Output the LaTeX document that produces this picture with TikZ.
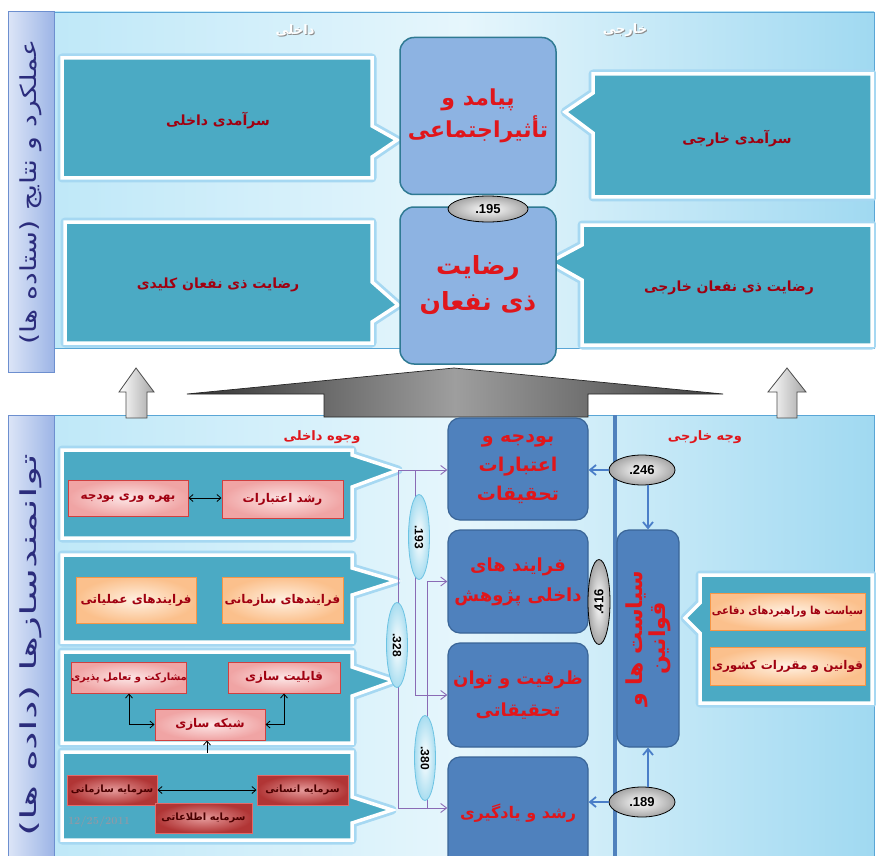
\documentclass[tikz,border=0pt]{standalone}
\usepackage{fontspec}
\usepackage{graphicx}
\usetikzlibrary{shapes.geometric,arrows.meta,calc}
\newfontfamily\arabicfont[Script=Arabic]{DejaVu Sans}
\newfontfamily\numfont{Liberation Sans}
\TeXXeTstate=1
\newcommand{\fa}[1]{{\arabicfont\beginR #1\endR}}
\newcommand{\fsz}[2]{\fontsize{#1}{#2}\selectfont}
\definecolor{cTeal}{HTML}{4BAAC4}
\definecolor{cTealD}{HTML}{2D6F82}
\definecolor{cGlow}{HTML}{A6D8F2}
\definecolor{cPanL}{HTML}{BFE8F8}
\definecolor{cPanM}{HTML}{E6F6FC}
\definecolor{cPanR}{HTML}{A0D9F1}
\definecolor{cPanB}{HTML}{5AA6D6}
\definecolor{cBarL}{HTML}{DCE5F7}
\definecolor{cBarR}{HTML}{9DB5E6}
\definecolor{cBarB}{HTML}{6D8FCF}
\definecolor{cBarT}{HTML}{2B2C7C}
\definecolor{cTopF}{HTML}{8DB3E2}
\definecolor{cTopB}{HTML}{2F7A93}
\definecolor{cChain}{HTML}{4F81BD}
\definecolor{cChainB}{HTML}{3A6597}
\definecolor{cRed}{HTML}{E0161B}
\definecolor{cDRed}{HTML}{A00010}
\definecolor{cPinkI}{HTML}{FCE6E6}
\definecolor{cPinkO}{HTML}{F0A4A4}
\definecolor{cPinkB}{HTML}{D04040}
\definecolor{cOrI}{HTML}{FFF1E2}
\definecolor{cOrO}{HTML}{FBC08C}
\definecolor{cOrB}{HTML}{F79646}
\definecolor{cCapI}{HTML}{E59A9A}
\definecolor{cCapO}{HTML}{B13535}
\definecolor{cCapB}{HTML}{E26B6B}
\definecolor{cCapT}{HTML}{4A0000}
\definecolor{cPurp}{HTML}{8A6BB5}
\definecolor{cBlueA}{HTML}{4A7EC8}
\definecolor{cCyan}{HTML}{A8DDF0}
\definecolor{cCyanB}{HTML}{6CC3E3}
\definecolor{cGrayE}{HTML}{A6A6A6}
\definecolor{cDate}{HTML}{8C9AA8}
\begin{document}
\begin{tikzpicture}[x=1pt,y=-1pt,
  callout/.style={fill=cTeal, draw=white, line width=3.5pt, preaction={draw=cGlow, line width=9pt, line join=round}},
  cotext/.style={text=cDRed, font=\bfseries\fsz{14}{16}},
  topbox/.style={draw=cTopB, line width=1.5pt, fill=cTopF, rounded corners=14pt, inner sep=0pt, text=cRed, align=center},
  chainbox/.style={draw=cChainB, line width=1.2pt, fill=cChain, rounded corners=12pt, inner sep=0pt, text=cRed, align=center, font=\bfseries\fsz{19}{29}},
  gell/.style={ellipse, draw=black, line width=0.8pt, inner color=white, outer color=cGrayE, inner sep=0pt, font=\numfont\bfseries\fsz{13}{13}},
  vell/.style={ellipse, draw=cCyanB, line width=0.8pt, inner color=white, outer color=cCyan, inner sep=0pt, minimum width=85pt, minimum height=21pt, rotate=-90, font=\numfont\bfseries\fsz{12}{12}},
  pinkbox/.style={draw=cPinkB, line width=1pt, inner color=cPinkI, outer color=cPinkO, inner sep=0pt, text=cDRed, font=\bfseries\fsz{12}{12}},
  orbox/.style={draw=cOrB, line width=1pt, inner color=cOrI, outer color=cOrO, inner sep=0pt, text=cDRed, font=\bfseries\fsz{12}{12}},
  capbox/.style={draw=cCapB, line width=1pt, inner color=cCapI, outer color=cCapO, inner sep=0pt, text=cCapT, font=\bfseries\fsz{10}{10}},
  blk/.style={draw=black, line width=0.8pt, {Straight Barb[length=4pt,width=7pt]}-{Straight Barb[length=4pt,width=7pt]}},
  purp/.style={draw=cPurp, line width=0.9pt},
  purpA/.style={draw=cPurp, line width=0.9pt, -{Straight Barb[length=6pt,width=9pt]}},
  blueA/.style={draw=cBlueA, line width=1.8pt, -{Straight Barb[length=6pt,width=10pt]}},
  hdr/.style={text=white, font=\bfseries\fsz{13}{13}},
  hdrs/.style={text=black!45, font=\bfseries\fsz{13}{13}},
  sect/.style={text=cRed, font=\bfseries\fsz{13}{13}}
]
\useasboundingbox (0,0) rectangle (876,856);
\fill[white] (0,0) rectangle (876,856);

% ---------- panels ----------
\shadedraw[left color=cPanL, right color=cPanR, middle color=cPanM, draw=cPanB, line width=0.8pt] (53,12) rectangle (874,348);
\shadedraw[left color=cPanL, right color=cPanR, middle color=cPanM, draw=cPanB, line width=0.8pt] (53,415) rectangle (874,860);
\shadedraw[left color=cBarL, right color=cBarR, draw=cBarB, line width=1pt] (8,12) rectangle (54,372);
\shadedraw[left color=cBarL, right color=cBarR, draw=cBarB, line width=1pt] (8,415) rectangle (54,860);
\node[rotate=90, text=cBarT, font=\fsz{22}{22}] (lblTop) at (31,192) {\scalebox{1.3}[1]{\fa{عملکرد و نتایج (ستاده ها)}}};
\node[rotate=90, text=cBarT, font=\fsz{22}{22}] (lblBot) at (31,645) {\scalebox{1.9}[1]{\fa{توانمندسازها (داده ها)}}};

% ---------- big gray arrow and small arrows ----------
\shadedraw[left color=black!80, right color=black!75, middle color=black!38, draw=black!85, line width=0.7pt]
  (187,394) -- (454,368) -- (723,394) -- (588,394) -- (588,417) -- (324,417) -- (324,394) -- cycle;
\shadedraw[left color=white, right color=black!35, draw=black!70, line width=0.8pt]
  (126,418) -- (126,392) -- (119,392) -- (136,368) -- (154,392) -- (147,392) -- (147,418) -- cycle;
\shadedraw[left color=white, right color=black!35, draw=black!70, line width=0.8pt]
  (777,418) -- (777,392) -- (768,392) -- (787,368) -- (806,392) -- (797,392) -- (797,418) -- cycle;

% ---------- headers ----------
\node[hdrs] (hdrInS) at (296,31) {\fa{داخلی}};
\node[hdr] (hdrIn) at (295,30) {\fa{داخلی}};
\node[hdrs] (hdrOutS) at (626,31) {\fa{خارجی}};
\node[hdr] (hdrOut) at (625,30) {\fa{خارجی}};

% ---------- top callouts ----------
\path[callout] (62,58) -- (372,58) -- (372,126) -- (397,140) -- (372,157) -- (372,178) -- (62,178) -- cycle;
\path[callout] (593,74) -- (872,74) -- (872,197) -- (593,197) -- (593,133) -- (565,112) -- (593,93) -- cycle;
\path[callout] (65,222) -- (372,222) -- (372,282) -- (398,305) -- (372,322) -- (372,343) -- (65,343) -- cycle;
\path[callout] (582,225) -- (872,225) -- (872,345) -- (582,345) -- (582,280) -- (550,262) -- (582,245) -- cycle;
\node[cotext] (sarDakheli) at (218,121) {\fa{سرآمدی داخلی}};
\node[cotext] (sarKhareji) at (737,139) {\fa{سرآمدی خارجی}};
\node[cotext] (rezKelidi) at (218,285) {\fa{رضایت ذی نفعان کلیدی}};
\node[cotext] (rezKhareji) at (729,288) {\fa{رضایت ذی نفعان خارجی}};

% ---------- central top boxes ----------
\node[topbox, minimum width=156pt, minimum height=157pt, font=\bfseries\fsz{22}{32}] (payamad) at (478,116) {\fa{پیامد و}\\\fa{تأثیراجتماعی}};
\node[topbox, minimum width=156pt, minimum height=157pt, font=\bfseries\fsz{25}{36}] (rezayat) at (478,285.5) {\fa{رضایت}\\\fa{ذی نفعان}};
\node[gell, minimum width=80pt, minimum height=26pt] (e195) at (488,209) {.195};

% ---------- bottom section headers ----------
\node[sect] (vojuh) at (322,437) {\fa{وجوه داخلی}};
\node[sect] (vajh) at (705,437) {\fa{وجه خارجی}};

% ---------- bottom-left callouts ----------
\path[callout] (62,450) -- (352,450) -- (352,455) -- (398,470) -- (352,487) -- (352,538) -- (62,538) -- cycle;
\path[callout] (62,555) -- (352,555) -- (352,568) -- (396,581) -- (352,595) -- (352,642) -- (62,642) -- cycle;
\path[callout] (62,652) -- (352,652) -- (352,667) -- (394,681) -- (352,696) -- (352,743) -- (62,743) -- cycle;
\path[callout] (62,752) -- (352,752) -- (352,797) -- (392,810) -- (352,823) -- (352,840) -- (62,840) -- cycle;

\node[pinkbox, minimum width=121pt, minimum height=38pt] (roshdE) at (282.5,499) {\fa{رشد اعتبارات}};
\node[pinkbox, minimum width=120pt, minimum height=36pt] (bahre) at (128,498) {\fa{بهره وری بودجه}};
\draw[blk] (bahre.east) -- (roshdE.west |- bahre.east);

\node[orbox, minimum width=121pt, minimum height=46pt] (farSaz) at (282.5,600) {\fa{فرایندهای سازمانی}};
\node[orbox, minimum width=120pt, minimum height=46pt] (farAmal) at (136,600) {\fa{فرایندهای عملیاتی}};

\node[pinkbox, minimum width=112pt, minimum height=31pt] (ghab) at (284,677.5) {\fa{قابلیت سازی}};
\node[pinkbox, minimum width=112pt, minimum height=31pt, font=\bfseries\fsz{10}{10}] (mosh) at (129,677.5) {\fa{مشارکت و تعامل پذیری}};
\node[pinkbox, minimum width=110pt, minimum height=31pt] (shab) at (210,724.5) {\fa{شبکه سازی}};
\draw[blk] (mosh.south) |- (shab.west);
\draw[blk] (ghab.south) |- (shab.east);
\coordinate (shabIn) at (207,753);
\draw[draw=black, line width=0.8pt, -{Straight Barb[length=4pt,width=7pt]}] (shabIn) -- (shabIn |- shab.south);

\node[capbox, minimum width=91pt, minimum height=30pt] (ensani) at (302.5,790) {\fa{سرمایه انسانی}};
\node[capbox, minimum width=90pt, minimum height=30pt] (sazmani) at (112,790) {\fa{سرمایه سازمانی}};
\node[capbox, minimum width=97pt, minimum height=30pt] (etelaat) at (203.5,818) {\fa{سرمایه اطلاعاتی}};
\draw[blk] (sazmani.east) -- (ensani.west);
\node[text=cDate, font=\bfseries\fsz{11}{11}] (date) at (99,822) {12/25/2011};

% ---------- central chain ----------
\node[chainbox, minimum width=140pt, minimum height=102pt] (boxA) at (518,469) {\fa{بودجه و}\\\fa{اعتبارات}\\\fa{تحقیقات}};
\node[chainbox, minimum width=140pt, minimum height=103pt, font=\bfseries\fsz{18}{30}] (boxB) at (518,581.5) {\fa{فرایند های}\\\fa{داخلی پژوهش}};
\node[chainbox, minimum width=140pt, minimum height=104pt, font=\bfseries\fsz{18}{32}] (boxC) at (518,695) {\fa{ظرفیت و توان}\\\fa{تحقیقاتی}};
\node[chainbox, minimum width=140pt, minimum height=112pt, font=\bfseries\fsz{16}{20}] (boxD) at (518,813) {\fa{رشد و یادگیری}};

% ---------- purple network ----------
\coordinate (p1) at (398,470);
\coordinate (pBot) at (398,808);
\coordinate (q2top) at (415,470);
\coordinate (q2bot) at (415,695);
\coordinate (q3top) at (427,581.5);
\coordinate (q3bot) at (427,808);
\draw[purp] (p1) -- (pBot);
\draw[purpA] (p1) -- (p1 -| boxA.west);
\draw[purp] (q2top) -- (q2bot);
\draw[purpA] (q2bot) -- (q2bot -| boxC.west);
\draw[purpA] (q3top) -- (q3top -| boxB.west);
\draw[purp] (q3top) -- (q3bot);
\draw[purpA] (pBot) -- (pBot -| boxD.west);
\node[vell] (e193) at (419,537) {.193};
\node[vell] (e328) at (397,645) {.328};
\node[vell] (e380) at (425,758) {.380};

% ---------- external side ----------
\coordinate (vTop) at (615,415);
\coordinate (vBot) at (615,860);
\draw[draw=cChain, line width=4pt] (vTop) -- (vBot);
\node[chainbox, minimum width=217pt, minimum height=62pt, rotate=90, font=\bfseries\fsz{22}{22}] (policy) at (648,638.5) {\fa{سیاست ها و}\\\fa{قوانین}};
\node[gell, minimum width=85pt, minimum height=22pt, rotate=90] (e416) at (599,602) {.416};
\node[gell, minimum width=66pt, minimum height=30pt] (e246) at (642,470) {.246};
\node[gell, minimum width=66pt, minimum height=30pt] (e189) at (642,802) {.189};
\draw[blueA] (e246.west) -- (boxA.east |- e246.west);
\draw[blueA] (policy.east |- e246.south) -- (policy.east);
\draw[blueA] (e189.west) -- (boxD.east |- e189.west);
\draw[blueA] (policy.west |- e189.north) -- (policy.west);

% right callout
\path[callout] (700,575) -- (872,575) -- (872,703) -- (700,703) -- (700,633) -- (685,618) -- (700,603) -- cycle;
\node[orbox, minimum width=155pt, minimum height=37pt, font=\bfseries\fsz{11}{11}] (rahbord) at (787.5,611.5) {\scalebox{0.92}[1]{\fa{سیاست ها وراهبردهای دفاعی}}};
\node[orbox, minimum width=155pt, minimum height=38pt] (ghavanin) at (787.5,666) {\fa{قوانین و مقررات کشوری}};
\end{tikzpicture}
\end{document}
